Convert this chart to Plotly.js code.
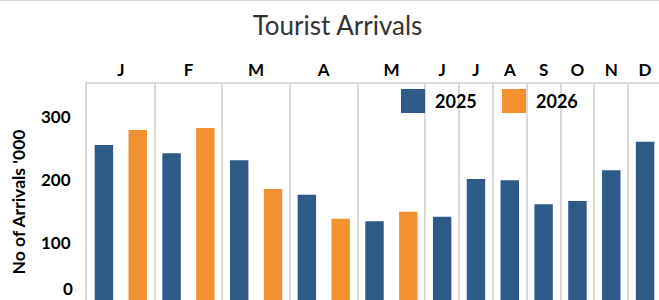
<!DOCTYPE html>
<html>
<head>
<meta charset="utf-8">
<script src="https://cdn.plot.ly/plotly-3.0.1.min.js"></script>
<style>
  html, body { margin: 0; padding: 0; overflow: hidden; background: #fff; }
  #chart { width: 664px; height: 320px; }
</style>
</head>
<body>
<div id="chart"></div>
<script>
// ---- data ----
const months = ['J','F','M','A','M','J','J','A','S','O','N','D'];
const series2025 = [256, 243, 232, 177, 135, 142, 202, 200, 162, 167, 216, 261];
const series2026 = [280, 283, 186, 139, 150, null, null, null, null, null, null, null];
const seriesNames = ['2025', '2026'];
const yTicks = [0, 100, 200, 300];
const chartTitle = 'Tourist Arrivals';
const yTitle = "No of Arrivals '000";

// ---- layout constants ----
const W = 664, H = 320;
const mL = 87, mR = 2, mT = 84, mB = 0;
const plotW = W - mL - mR, plotH = H - mT - mB;
const BLUE = '#2E5A87', ORANGE = '#F39130', GRID = '#D9D9D9';
const FONT = 'Lato, "Open Sans", sans-serif';

// slot positions: months with both years take two slots
const x25 = [], x26 = [], bounds = [], centers = [];
let s = 0;
months.forEach((m, i) => {
  bounds.push(s);
  if (series2026[i] !== null) {
    x25.push(s + 0.5); x26.push(s + 1.5);
    centers.push(s + 1); s += 2;
  } else {
    x25.push(s + 0.5); x26.push(null);
    centers.push(s + 0.5); s += 1;
  }
});
bounds.push(s);
const nSlots = s;

// y scale: 0.63 px per unit, zero at pixel 306.3
const pxPerUnit = 0.63, zeroPx = 306.3;
const yTop = (zeroPx - mT) / pxPerUnit;
const yBot = yTop - plotH / pxPerUnit;

const px2x = px => (px - mL) / plotW;
const px2y = py => 1 - (py - mT) / plotH;

const barW = 0.545;
const traces = [
  { type: 'bar', name: seriesNames[0], x: x25, y: series2025, width: barW,
    marker: { color: BLUE }, xaxis: 'x', yaxis: 'y', showlegend: false, hoverinfo: 'skip' },
  { type: 'bar', name: seriesNames[1],
    x: x26.filter((v, i) => series2026[i] !== null),
    y: series2026.filter(v => v !== null), width: barW,
    marker: { color: ORANGE }, xaxis: 'x2', yaxis: 'y', showlegend: false, hoverinfo: 'skip' }
];

// custom legend (large swatches)
const legendItems = [
  { name: seriesNames[0], color: BLUE, x0: 401, textX: 433 },
  { name: seriesNames[1], color: ORANGE, x0: 502, textX: 534 }
];
const shapes = [
  { type: 'line', xref: 'paper', yref: 'paper', x0: px2x(0), x1: px2x(W), y0: px2y(0.5), y1: px2y(0.5),
    line: { color: GRID, width: 1 } }
];
const annotations = [
  { xref: 'paper', yref: 'y', x: 0, y: yTicks[0], xanchor: 'right', yanchor: 'middle',
    xshift: -13, yshift: 17.5, text: String(yTicks[0]), showarrow: false, borderpad: 0,
    font: { family: FONT, size: 17, color: '#000', weight: 700 } }
];
legendItems.forEach(it => {
  shapes.push({ type: 'rect', xref: 'paper', yref: 'paper',
    x0: px2x(it.x0), x1: px2x(it.x0 + 24), y0: px2y(113), y1: px2y(89),
    fillcolor: it.color, line: { width: 0 } });
  annotations.push({ xref: 'paper', yref: 'paper', x: px2x(it.textX), y: px2y(101),
    xanchor: 'left', yanchor: 'middle', text: it.name, showarrow: false,
    font: { family: FONT, size: 18, color: '#000', weight: 700 } });
});

const layout = {
  width: W, height: H,
  margin: { l: mL, r: mR, t: mT, b: mB, pad: 0 },
  paper_bgcolor: '#fff', plot_bgcolor: '#fff',
  barmode: 'overlay',
  title: { text: chartTitle, xref: 'container', x: 337.5 / W, xanchor: 'center',
           yref: 'container', y: 1 - 26 / H, yanchor: 'middle',
           font: { family: FONT, size: 26, color: '#333333', weight: 400 } },
  xaxis: { range: [0, nSlots], tickvals: bounds, showticklabels: false, ticks: '',
           showgrid: true, gridcolor: GRID, gridwidth: 2, zeroline: false,
           showline: true, mirror: true, linecolor: GRID, linewidth: 2, fixedrange: true },
  xaxis2: { overlaying: 'x', side: 'top', anchor: 'y', range: [0, nSlots],
            tickvals: centers, ticktext: months, ticks: '', showgrid: false, zeroline: false,
            showline: false, ticklabelstandoff: 4,
            tickfont: { family: FONT, size: 17, color: '#000', weight: 700 }, fixedrange: true },
  yaxis: { range: [yBot, yTop], tickvals: yTicks.slice(1), ticks: '', showgrid: false,
           zeroline: false, showline: true, mirror: true, linecolor: GRID, linewidth: 2,
           ticklabelstandoff: 11,
           tickfont: { family: FONT, size: 17, color: '#000', weight: 700 },
           title: { text: yTitle, standoff: 11,
                    font: { family: FONT, size: 17.5, color: '#000', weight: 700 } },
           fixedrange: true },
  shapes: shapes,
  annotations: annotations
};

Plotly.newPlot('chart', traces, layout, { displayModeBar: false, staticPlot: true });
</script>
</body>
</html>
